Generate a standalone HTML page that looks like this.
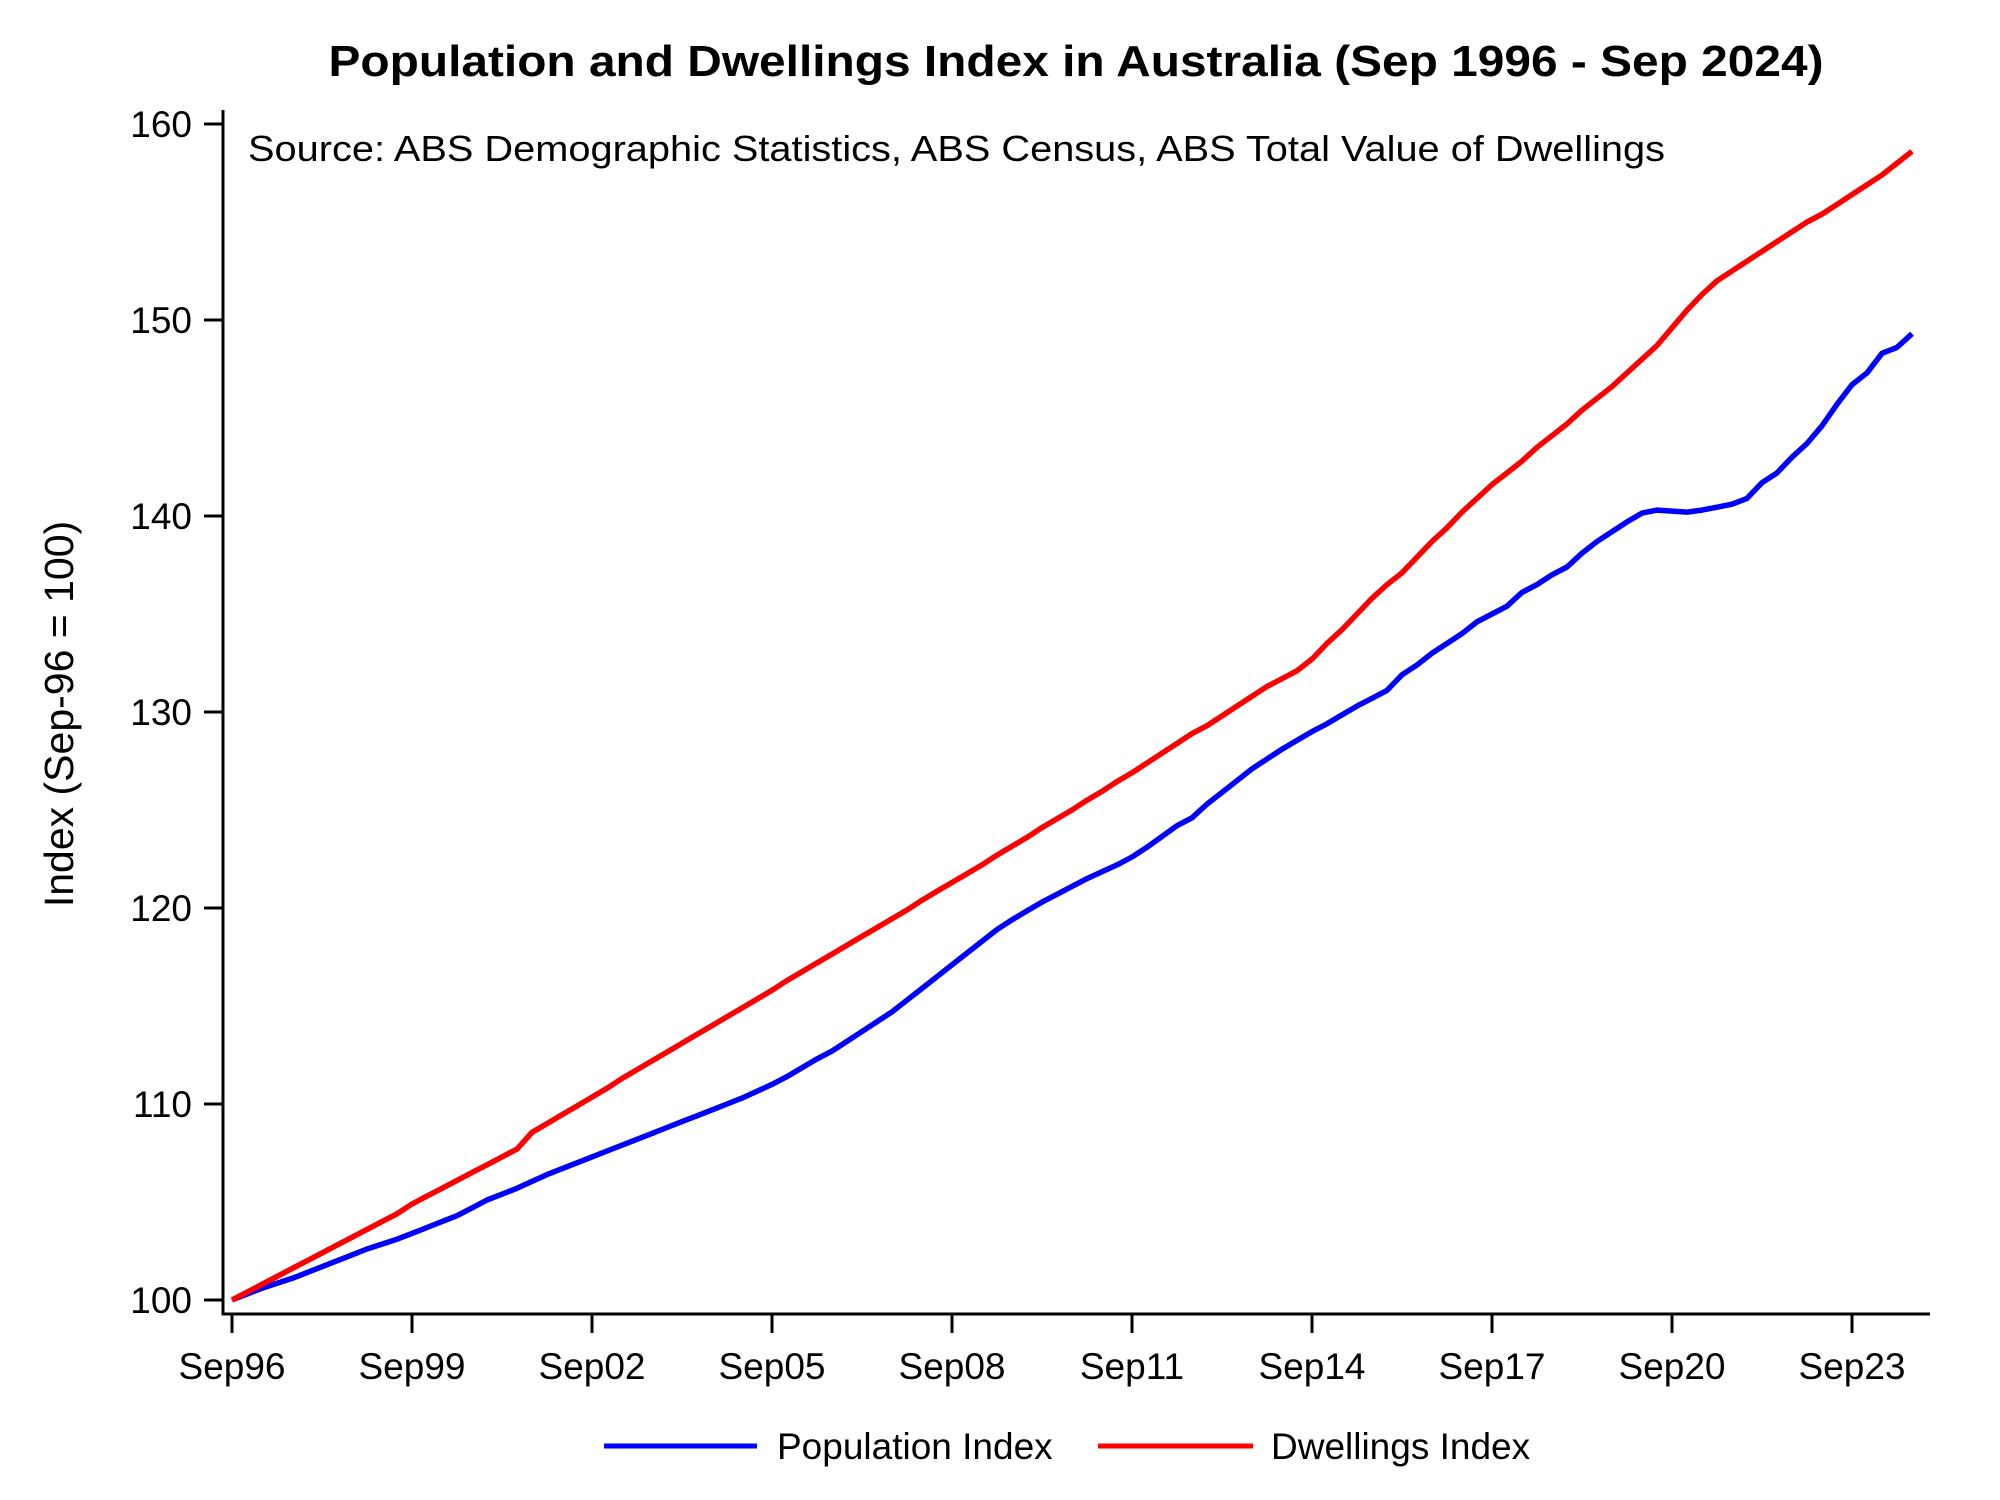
<!DOCTYPE html>
<html><head><meta charset="utf-8"><style>
html,body{margin:0;padding:0;background:#fff;}
svg{display:block;font-family:"Liberation Sans",Arial,sans-serif;}
</style></head><body>
<svg id="chart" width="2000" height="1500" viewBox="0 0 2000 1500" xmlns="http://www.w3.org/2000/svg">
<rect width="2000" height="1500" fill="#fff"/>
<text x="1076" y="76" text-anchor="middle" font-size="44" font-weight="bold" textLength="1495" lengthAdjust="spacingAndGlyphs">Population and Dwellings Index in Australia (Sep 1996 - Sep 2024)</text>
<text x="248" y="161" font-size="36" textLength="1417" lengthAdjust="spacingAndGlyphs">Source: ABS Demographic Statistics, ABS Census, ABS Total Value of Dwellings</text>
<text transform="translate(73,714) rotate(-90)" text-anchor="middle" font-size="41">Index (Sep-96 = 100)</text>
<g id="axes"></g>
<g id="series"></g>
<g id="legend">
<line x1="604" y1="1446" x2="757" y2="1446" stroke="#0000ff" stroke-width="5"/>
<text x="777" y="1459" font-size="37">Population Index</text>
<line x1="1098" y1="1446" x2="1253" y2="1446" stroke="#ff0000" stroke-width="5"/>
<text x="1271" y="1459" font-size="37">Dwellings Index</text>
</g>
</svg>
<script>
const xTickLabels = ["Sep96","Sep99","Sep02","Sep05","Sep08","Sep11","Sep14","Sep17","Sep20","Sep23"];
const xTickQuarters = [0,12,24,36,48,60,72,84,96,108];
const yTicks = [100,110,120,130,140,150,160];
const dwellings = [100,100.4,100.8,101.2,101.6,102.0,102.4,102.8,103.2,103.6,104.0,104.4,104.9,105.3,105.7,106.1,106.5,106.9,107.3,107.7,
108.55,109.0,109.45,109.9,110.35,110.8,111.3,111.75,112.2,112.65,113.1,113.55,114.0,114.45,114.9,115.35,115.8,116.3,116.75,117.2,117.65,118.1,118.55,119.0,119.45,119.9,120.4,120.85,121.3,
121.75,122.2,122.7,123.15,123.6,124.1,124.55,125.0,125.5,
125.95,126.45,126.9,127.4,127.9,128.4,128.9,129.3,129.8,130.3,130.8,131.3,131.7,132.1,132.7,
133.5,134.2,135.0,135.8,136.5,137.1,137.9,138.7,139.4,140.2,140.9,141.6,142.2,142.8,143.5,144.1,
144.7,145.4,146.0,146.6,147.3,148.0,148.7,149.6,150.5,
151.3,152.0,152.5,153.0,153.5,154.0,154.5,155.0,155.4,155.9,156.4,156.9,157.4,158.0,158.6];
const population = [100,100.3,100.6,100.85,101.1,101.4,101.7,102.0,102.3,102.6,102.85,103.1,103.4,
103.7,104.0,104.3,104.7,105.1,105.4,105.7,106.05,106.4,106.7,107.0,107.3,
107.6,107.9,108.2,108.5,108.8,109.1,109.4,109.7,110.0,110.3,110.65,111.0,
111.4,111.85,112.3,112.7,113.2,113.7,114.2,114.7,115.3,115.9,116.5,117.1,
117.7,118.3,118.9,119.4,119.85,120.3,120.7,121.1,121.5,121.85,122.2,122.6,
123.1,123.65,124.2,124.6,125.3,125.9,126.5,127.1,127.6,128.1,128.55,129.0,
129.4,129.85,130.3,130.7,131.1,131.9,132.4,133.0,133.5,134.0,134.6,135.0,
135.4,136.1,136.5,137.0,137.4,138.1,138.7,139.2,139.7,
140.15,140.3,140.25,140.2,140.3,140.45,140.6,140.9,141.7,142.2,143.0,143.7,144.6,145.7,146.7,147.3,148.3,148.6,149.3];

const NS = "http://www.w3.org/2000/svg";
function xScale(q){ return 232 + 15 * q; }
function yScale(v){ return 1300 - (v - 100) * 19.6; }
function mk(tag, attrs, parent){ const e = document.createElementNS(NS, tag); for (const k in attrs) e.setAttribute(k, attrs[k]); parent.appendChild(e); return e; }

const axes = document.getElementById('axes');
const yAxis = mk('line', {x1:223, y1:110, x2:223, y2:1315, stroke:'#000', 'stroke-width':3}, axes);


const xAxis = mk('line', {x1:222, y1:1314, x2:1930, y2:1314, stroke:'#000', 'stroke-width':3}, axes);



yTicks.forEach(function(v){
  const y = yScale(v);
  const t = mk('line', {x1:204, y1:y, x2:223, y2:y, stroke:'#000', 'stroke-width':3}, axes);
  
  
  const l = mk('text', {x:192, y:y + 13, 'text-anchor':'end', 'font-size':37}, axes);
  l.textContent = v;
  
  
});
xTickQuarters.forEach(function(q, i){
  const x = xScale(q);
  const t = mk('line', {x1:x, y1:1314, x2:x, y2:1333, stroke:'#000', 'stroke-width':3}, axes);
  
  
  const l = mk('text', {x:x, y:1379, 'text-anchor':'middle', 'font-size':37}, axes);
  l.textContent = xTickLabels[i];
  
  
});

const series = document.getElementById('series');
function pts(arr){ return arr.map(function(v, q){ return xScale(q).toFixed(1) + ',' + yScale(v).toFixed(1); }).join(' '); }
const pl = mk('polyline', {points:pts(population), fill:'none', stroke:'#0000ff', 'stroke-width':5.5, 'stroke-linejoin':'round'}, series);


const dl = mk('polyline', {points:pts(dwellings), fill:'none', stroke:'#ff0000', 'stroke-width':5.5, 'stroke-linejoin':'round'}, series);


</script>
</body></html>
